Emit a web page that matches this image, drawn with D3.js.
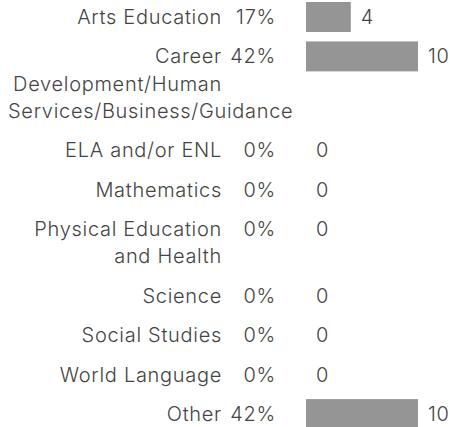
<!DOCTYPE html>
<html><head><meta charset="utf-8">
<script src="https://cdn.jsdelivr.net/npm/d3@7"></script>
<style>
html,body{margin:0;padding:0;background:#fff;}
svg{display:block;}
text{font-family:"Inter","DejaVu Sans",sans-serif;font-weight:350;fill:#444;letter-spacing:0.7px;}
</style></head>
<body>
<script>
const categories = [
  ["Arts Education"],
  ["Career", "Development/Human", "Services/Business/Guidance"],
  ["ELA and/or ENL"],
  ["Mathematics"],
  ["Physical Education", "and Health"],
  ["Science"],
  ["Social Studies"],
  ["World Language"],
  ["Other"]
];
const counts = [4, 10, 0, 0, 0, 0, 0, 0, 10];
const percents = ["17%", "42%", "0%", "0%", "0%", "0%", "0%", "0%", "42%"];

const W = 450, H = 427;
const svg = d3.select("body").append("svg").attr("width", W).attr("height", H);

const barH = 30, gap = 9.4, lineH = 27.3;
const labelLeft = 8, labelRight = 222;
const rowH = categories.map(c => barH + gap + (c.length - 1) * lineH);
const tops = [];
let acc = 0;
rowH.forEach(h => { tops.push(acc); acc += h; });

const y = d3.scaleLinear().domain([0, acc]).range([2, 2 + acc]);
const x = d3.scaleLinear().domain([0, 10]).range([306, 418]);

const fs = 20;
const g = svg.selectAll("g.row").data(categories).join("g").attr("class", "row")
  .attr("transform", (d, i) => `translate(0,${y(tops[i])})`);

g.append("rect")
  .attr("x", x(0))
  .attr("y", 0)
  .attr("width", (d, i) => x(counts[i]) - x(0))
  .attr("height", barH)
  .attr("fill", "#959595");

g.each(function(d) {
  const grp = d3.select(this);
  d.forEach((line, j) => {
    const t = grp.append("text")
      .attr("font-size", fs)
      .attr("y", barH / 2 + j * lineH).attr("dy", "0.35em")
      .text(line);
    const w = t.node().getComputedTextLength();
    if (w > labelRight - labelLeft) {
      t.attr("x", labelLeft).attr("text-anchor", "start");
    } else {
      t.attr("x", labelRight).attr("text-anchor", "end");
    }
  });
});

g.append("text")
  .attr("x", 276).attr("y", barH / 2).attr("dy", "0.35em")
  .attr("text-anchor", "end").attr("font-size", fs)
  .text((d, i) => percents[i]);

g.append("text")
  .attr("x", (d, i) => x(counts[i]) + 10).attr("y", barH / 2).attr("dy", "0.35em")
  .attr("font-size", fs)
  .text((d, i) => counts[i]);
</script>
</body></html>
